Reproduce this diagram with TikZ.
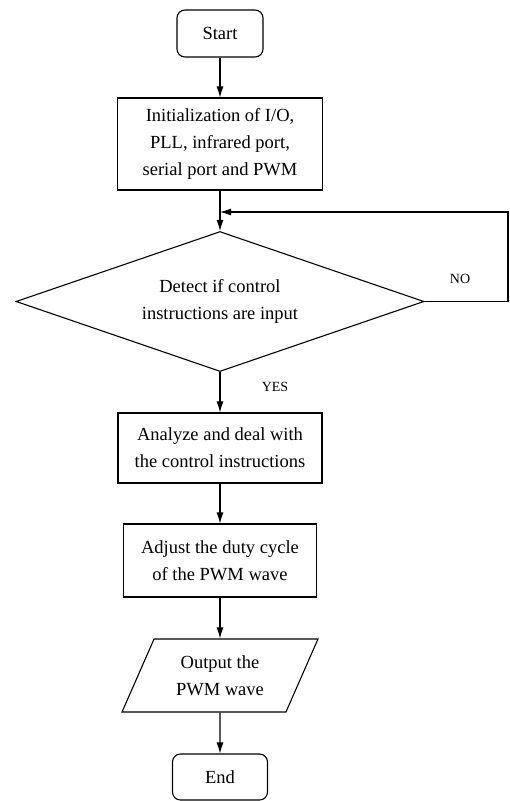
\documentclass[tikz,border=0pt]{standalone}
\usepackage{fontspec}
\setmainfont{Liberation Serif}
\usepackage{tikz}
\usetikzlibrary{positioning,arrows.meta,shapes.geometric}

\begin{document}
\begin{tikzpicture}[x=1pt,y=-1pt,line width=1.1pt,
  box/.style={draw,rectangle,align=center,inner sep=0pt,font=\fontsize{18.5}{27}\selectfont},
  term/.style={box,rounded corners=8pt},
  cond/.style={box,diamond,aspect=2.9},
  io/.style={box,trapezium,trapezium left angle=62,trapezium right angle=118,trapezium stretches=true},
  flow/.style={-{Latex[length=11pt,width=7pt]}},
  lab/.style={font=\fontsize{14}{16}\selectfont,inner sep=0pt}]
\useasboundingbox (0,0) rectangle (510,801);
% start and init
\node[term,minimum width=86pt,minimum height=47pt] (start) at (220,33.5) {Start};
\node[box,minimum width=205pt,minimum height=92pt] (init) at (220,144) {Initialization of I/O,\\PLL, infrared port,\\serial port and PWM};
% decision
\node[cond,minimum width=408pt,minimum height=140pt] (detect) at (220,301.5) {Detect if control\\instructions are input};
\node[lab] (no) at (460,279) {NO};
\node[lab] (yes) at (275,387) {YES};
\coordinate (back) at (220,212);
\coordinate (loopR) at (508,212);
% processing
\node[box,minimum width=204pt,minimum height=70pt] (analyze) at (220,448) {Analyze and deal with\\the control instructions};
\node[box,minimum width=193pt,minimum height=73pt] (adjust) at (220,560.5) {Adjust the duty cycle\\of the PWM wave};
\node[io,minimum width=196pt,minimum height=73pt] (output) at (220,675.5) {Output the\\PWM wave};
\node[term,minimum width=95pt,minimum height=46pt] (end) at (220,777) {End};
% arrows
\draw[flow] (start) -- (init);
\draw[flow] (init) -- (detect);
\draw[flow] (detect.east) -| (loopR) -- (back);
\draw[flow] (detect) -- (analyze);
\draw[flow] (analyze) -- (adjust);
\draw[flow] (adjust) -- (output);
\draw[flow] (output) -- (end);
\end{tikzpicture}
\end{document}
